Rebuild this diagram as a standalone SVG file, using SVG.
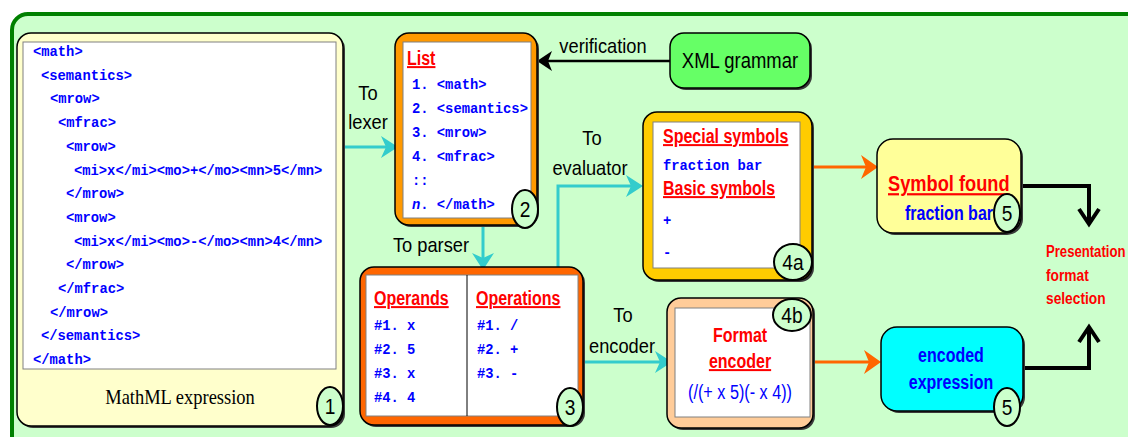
<svg xmlns="http://www.w3.org/2000/svg" width="1128" height="437" viewBox="0 0 1128 437">
<style>
.code{font-family:"Liberation Mono","Courier New",monospace;font-weight:bold;font-size:13.8px;fill:#0000ff}
.lbl{font-family:"Liberation Sans",Arial,sans-serif;font-size:21px;fill:#000;text-anchor:middle}
.head{font-family:"Liberation Sans",Arial,sans-serif;font-size:20px;font-weight:bold;fill:#ff0000;text-decoration:underline}
.bhead{font-family:"Liberation Sans",Arial,sans-serif;font-size:20px;font-weight:bold;fill:#ff0000;text-anchor:middle}
.blue{font-family:"Liberation Sans",Arial,sans-serif;font-size:20px;font-weight:bold;fill:#0000ff;text-anchor:middle}
.num{font-family:"Liberation Sans",Arial,sans-serif;font-size:22px;fill:#000;text-anchor:middle}
.cap{font-family:"Liberation Serif","Times New Roman",serif;font-size:22px;fill:#000;text-anchor:middle}
.pres{font-family:"Liberation Sans",Arial,sans-serif;font-size:16px;font-weight:bold;fill:#ff0000}
.shadow{fill:#3a3a3a}
.box{stroke:#000;stroke-width:1.5}
.inner{fill:#fff;stroke:#808080;stroke-width:1}
.badge{fill:#ccffcc;stroke:#000;stroke-width:2}
.cy{fill:none;stroke:#33cccc;stroke-width:3}
.or{fill:none;stroke:#ff6600;stroke-width:3}
.bk{fill:none;stroke:#000;stroke-width:2.5}
.bk4{fill:none;stroke:#000;stroke-width:4}
</style>
<defs>
<marker id="ahC" viewBox="-20 -13 24 26" refX="-6" refY="0" markerWidth="24" markerHeight="26" markerUnits="userSpaceOnUse" orient="auto"><path d="M-17,-11 L0,0 L-17,11 L-12,0 Z" fill="#33cccc"/></marker>
<marker id="ahO" viewBox="-20 -13 24 26" refX="-6" refY="0" markerWidth="24" markerHeight="26" markerUnits="userSpaceOnUse" orient="auto"><path d="M-17,-12 L0,0 L-17,12 L-12,0 Z" fill="#ff6600"/></marker>
<marker id="ahK" viewBox="-20 -13 24 26" refX="-6" refY="0" markerWidth="24" markerHeight="26" markerUnits="userSpaceOnUse" orient="auto"><path d="M-15,-10 L0,0 L-15,10 L-11,0 Z" fill="#000"/></marker>
<marker id="chev" viewBox="-18 -13 22 26" refX="0" refY="0" markerWidth="22" markerHeight="26" markerUnits="userSpaceOnUse" orient="auto"><path d="M-15,-10 L0,0 L-15,10" fill="none" stroke="#000" stroke-width="4"/></marker>
</defs>
<rect x="0" y="0" width="1128" height="437" fill="#fff"/>
<rect x="12" y="14" width="1140" height="450" rx="16" fill="#ccffcc" stroke="#008000" stroke-width="4"/>

<g id="connectors">
<line x1="670" y1="61" x2="543" y2="61" class="bk" marker-end="url(#ahK)"/>
<text class="lbl" transform="translate(603,53) scale(0.87,1)">verification</text>
<line x1="336" y1="147" x2="392" y2="147" class="cy" marker-end="url(#ahC)"/>
<text class="lbl" transform="translate(368,100) scale(0.87,1)">To</text>
<text class="lbl" transform="translate(368,129) scale(0.87,1)">lexer</text>
<line x1="483" y1="213" x2="483" y2="264" class="cy" marker-end="url(#ahC)"/>
<text class="lbl" transform="translate(431,252) scale(0.87,1)">To parser</text>
<path d="M558,267 V186 H637" class="cy" marker-end="url(#ahC)"/>
<text class="lbl" transform="translate(592,145) scale(0.87,1)">To</text>
<text class="lbl" transform="translate(590,175) scale(0.87,1)">evaluator</text>
<line x1="583" y1="362" x2="666" y2="362" class="cy" marker-end="url(#ahC)"/>
<text class="lbl" transform="translate(623,322) scale(0.87,1)">To</text>
<text class="lbl" transform="translate(622,353) scale(0.87,1)">encoder</text>
<line x1="798" y1="167" x2="872" y2="167" class="or" marker-end="url(#ahO)"/>
<line x1="812" y1="362" x2="875" y2="362" class="or" marker-end="url(#ahO)"/>
<path d="M1021,186 H1089 V224" class="bk4" marker-end="url(#chev)"/>
<path d="M1023,368 H1089 V327" class="bk4" marker-end="url(#chev)"/>
</g>

<g id="node1">
<rect class="shadow" x="19" y="35" width="326" height="393" rx="14"/>
<rect class="box" x="17" y="33" width="326" height="393" rx="14" fill="#ffffcc"/>
<rect class="inner" x="23" y="42" width="313" height="327"/>
<text class="code" x="33" y="56">&lt;math&gt;</text>
<text class="code" x="41" y="80">&lt;semantics&gt;</text>
<text class="code" x="50" y="103">&lt;mrow&gt;</text>
<text class="code" x="58" y="127">&lt;mfrac&gt;</text>
<text class="code" x="66" y="151">&lt;mrow&gt;</text>
<text class="code" x="74" y="175">&lt;mi&gt;x&lt;/mi&gt;&lt;mo&gt;+&lt;/mo&gt;&lt;mn&gt;5&lt;/mn&gt;</text>
<text class="code" x="66" y="198">&lt;/mrow&gt;</text>
<text class="code" x="66" y="222">&lt;mrow&gt;</text>
<text class="code" x="74" y="246">&lt;mi&gt;x&lt;/mi&gt;&lt;mo&gt;-&lt;/mo&gt;&lt;mn&gt;4&lt;/mn&gt;</text>
<text class="code" x="66" y="269">&lt;/mrow&gt;</text>
<text class="code" x="58" y="293">&lt;/mfrac&gt;</text>
<text class="code" x="50" y="317">&lt;/mrow&gt;</text>
<text class="code" x="41" y="340">&lt;/semantics&gt;</text>
<text class="code" x="33" y="364">&lt;/math&gt;</text>
<text class="cap" transform="translate(180,404) scale(0.84,1)">MathML expression</text>
<ellipse class="badge" cx="330" cy="406" rx="13" ry="19"/>
<text class="num" transform="translate(330,414) scale(0.87,1)">1</text>
</g>

<g id="node2">
<rect class="shadow" x="397" y="35" width="142" height="192" rx="14"/>
<rect class="box" x="395" y="33" width="142" height="192" rx="14" fill="#ff9900"/>
<rect class="inner" x="403" y="42" width="128" height="176"/>
<text class="head" transform="translate(407,65) scale(0.8,1)">List</text>
<text class="code" x="412" y="89">1. &lt;math&gt;</text>
<text class="code" x="412" y="113">2. &lt;semantics&gt;</text>
<text class="code" x="412" y="137">3. &lt;mrow&gt;</text>
<text class="code" x="412" y="161">4. &lt;mfrac&gt;</text>
<text class="code" x="412" y="185">::</text>
<text class="code" x="412" y="209"><tspan font-style="italic">n</tspan>. &lt;/math&gt;</text>
<ellipse class="badge" cx="525" cy="209" rx="13" ry="19"/>
<text class="num" transform="translate(525,217) scale(0.87,1)">2</text>
</g>

<g id="node3">
<rect class="shadow" x="362" y="269" width="223" height="158" rx="14"/>
<rect class="box" x="360" y="267" width="223" height="158" rx="14" fill="#ff6600"/>
<rect class="inner" x="366" y="275" width="212" height="141"/>
<line x1="467" y1="275" x2="467" y2="416" stroke="#000" stroke-width="1"/>
<text class="head" transform="translate(374,305) scale(0.8,1)">Operands</text>
<text class="head" transform="translate(476,305) scale(0.8,1)">Operations</text>
<text class="code" x="374" y="330">#1. x</text>
<text class="code" x="374" y="354">#2. 5</text>
<text class="code" x="374" y="378">#3. x</text>
<text class="code" x="374" y="402">#4. 4</text>
<text class="code" x="477" y="330">#1. /</text>
<text class="code" x="477" y="354">#2. +</text>
<text class="code" x="477" y="378">#3. -</text>
<ellipse class="badge" cx="570" cy="407" rx="13" ry="19"/>
<text class="num" transform="translate(570,415) scale(0.87,1)">3</text>
</g>

<g id="node4a">
<rect class="shadow" x="645" y="114" width="169" height="168" rx="14"/>
<rect class="box" x="643" y="112" width="169" height="168" rx="14" fill="#ffcc00"/>
<rect class="inner" x="653" y="122" width="147" height="146"/>
<text class="head" transform="translate(663,143) scale(0.8,1)">Special symbols</text>
<text class="code" x="663" y="170">fraction bar</text>
<text class="head" transform="translate(663,195) scale(0.8,1)">Basic symbols</text>
<text class="code" x="663" y="225">+</text>
<text class="code" x="663" y="257">-</text>
<ellipse class="badge" cx="793" cy="262" rx="19" ry="18"/>
<text class="num" transform="translate(793,270) scale(0.87,1)">4a</text>
</g>

<g id="node4b">
<rect class="shadow" x="669" y="300" width="146" height="130" rx="14"/>
<rect class="box" x="667" y="298" width="146" height="130" rx="14" fill="#ffcc99"/>
<rect class="inner" x="675" y="308" width="135" height="109"/>
<text class="bhead" transform="translate(740,342) scale(0.8,1)">Format</text>
<text class="bhead" text-decoration="underline" transform="translate(740,368) scale(0.8,1)">encoder</text>
<text class="lbl" style="fill:#0000ff;font-size:20px" transform="translate(740,399) scale(0.81,1)">(/(+ x 5)(- x 4))</text>
<ellipse class="badge" cx="792" cy="315" rx="19" ry="16"/>
<text class="num" transform="translate(792,323) scale(0.87,1)">4b</text>
</g>

<g id="xmlgrammar">
<rect class="shadow" x="672" y="35" width="140" height="55" rx="14"/>
<rect class="box" x="670" y="33" width="140" height="55" rx="14" fill="#66ff66"/>
<text class="lbl" style="font-size:22px" transform="translate(740,68) scale(0.84,1)">XML grammar</text>
</g>

<g id="symbolfound">
<rect class="shadow" x="879" y="141" width="144" height="94" rx="16"/>
<rect class="box" x="877" y="139" width="144" height="94" rx="16" fill="#ffff99"/>
<text class="head" style="font-size:22px" transform="translate(888,191) scale(0.83,1)">Symbol found</text>
<text class="blue" transform="translate(949,220) scale(0.8,1)">fraction bar</text>
<ellipse class="badge" cx="1007" cy="213" rx="13" ry="19"/>
<text class="num" transform="translate(1007,221) scale(0.87,1)">5</text>
</g>

<g id="encoded">
<rect class="shadow" x="883" y="329" width="142" height="84" rx="16"/>
<rect class="box" x="881" y="327" width="142" height="84" rx="16" fill="#00ffff"/>
<text class="blue" transform="translate(951,362) scale(0.8,1)">encoded</text>
<text class="blue" transform="translate(951,389) scale(0.8,1)">expression</text>
<ellipse class="badge" cx="1007" cy="407" rx="13" ry="19"/>
<text class="num" transform="translate(1007,415) scale(0.87,1)">5</text>
</g>

<g id="presentation">
<text class="pres" transform="translate(1046,257) scale(0.82,1)">Presentation</text>
<text class="pres" transform="translate(1046,281) scale(0.86,1)">format</text>
<text class="pres" transform="translate(1046,304) scale(0.86,1)">selection</text>
</g>
</svg>
